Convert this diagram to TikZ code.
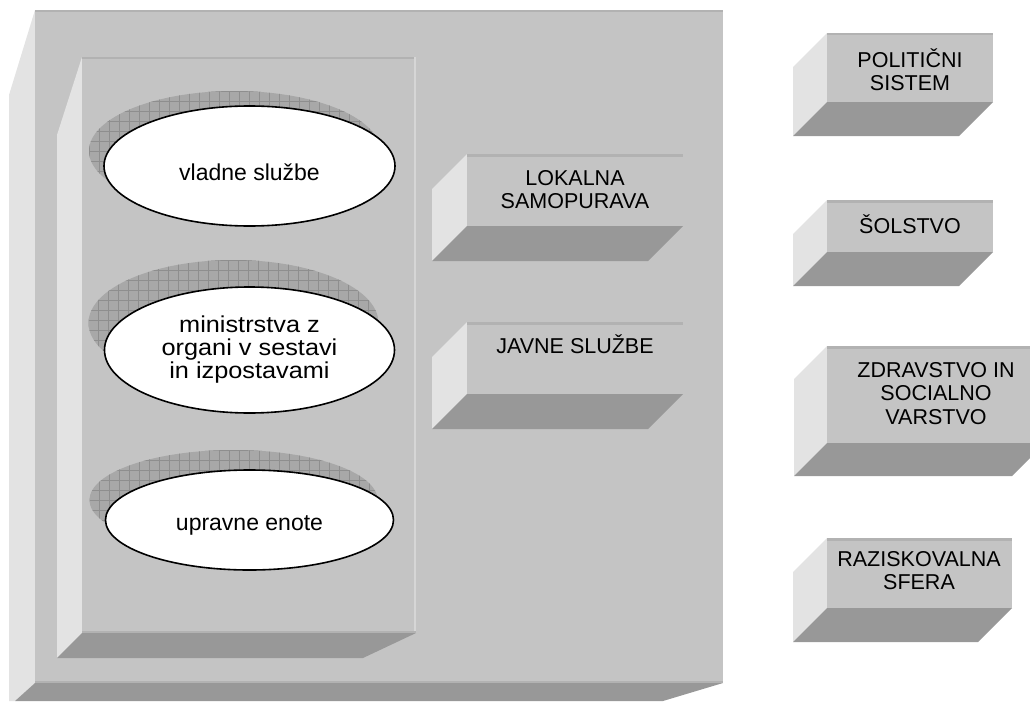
\documentclass[tikz,border=0pt]{standalone}
\usepackage{fontspec}
\setmainfont{Liberation Sans}
\usetikzlibrary{shapes.geometric}
\definecolor{cfront}{RGB}{196,196,196}
\definecolor{clight}{RGB}{227,227,227}
\definecolor{cdark}{RGB}{152,152,152}
\definecolor{cedge}{RGB}{178,178,178}
\definecolor{cedgel}{RGB}{214,214,214}
\definecolor{cshad}{RGB}{168,168,168}
\definecolor{cgrid}{RGB}{142,142,142}
\tikzset{
  frontface/.style={fill=cfront},
  lightface/.style={fill=clight},
  darkface/.style={fill=cdark},
  edgeface/.style={fill=cedge},
  edgelight/.style={fill=cedgel},
  gridline/.style={draw=cgrid, line width=0.5pt},
  mainell/.style={ellipse, draw=black, line width=1.6pt, fill=white, inner sep=0pt},
  lbl/.style={font=\fontsize{21.5}{23.5}\selectfont, inner sep=0pt, anchor=north, align=center},
  etext/.style={font=\fontsize{23}{23.3}\selectfont, inner sep=0pt, align=center},
}
\newcommand{\cubebox}[5]{%
  \fill[lightface] (#1,#2) -- (#1-#5,#2+#5) -- (#1-#5,#4+#5) -- (#1,#4) -- cycle;
  \fill[darkface] (#1,#4) -- (#3,#4) -- (#3-#5,#4+#5) -- (#1-#5,#4+#5) -- cycle;
  \fill[frontface] (#1,#2) rectangle (#3,#4);
  \fill[edgeface] (#1,#2) rectangle (#3,#2+2.5);
}
\newcommand{\shadowell}[4]{%
  \begin{scope}
    \clip (#1,#2) ellipse [x radius=#3, y radius=#4];
    \fill[cshad] (#1-#3,#2-#4) rectangle (#1+#3,#2+#4);
    \foreach \i in {0,...,30} {\draw[gridline] (#1-#3+10*\i,#2-#4) -- (#1-#3+10*\i,#2+#4);}
    \foreach \j in {0,...,14} {\draw[gridline] (#1-#3,#2-#4+10*\j) -- (#1+#3,#2-#4+10*\j);}
  \end{scope}
}
\begin{document}
\begin{tikzpicture}[x=1pt,y=-1pt]
\useasboundingbox (0,0) rectangle (1030,701);
\begin{scope}
\clip (0,0) rectangle (1030,701);
% big box
\fill[lightface] (35,10) -- (9,95) -- (9,701) -- (15,701) -- (35,683) -- cycle;
\fill[darkface] (35,683) -- (723,683) -- (663,701) -- (15,701) -- cycle;
\fill[frontface] (35,10) rectangle (723,683);
\fill[edgeface] (35,10) rectangle (723,12.5);
\fill[edgeface] (35,680.5) rectangle (723,683);
% inner box
\fill[lightface] (82,57) -- (57,135) -- (57,658) -- (82,633) -- cycle;
\fill[darkface] (82,633) -- (416,633) -- (363,658) -- (57,658) -- cycle;
\fill[frontface] (82,57) rectangle (416,633);
\fill[edgeface] (82,57) rectangle (416,59.5);
\fill[edgelight] (413.5,57) rectangle (416,633);
\fill[edgeface] (82,630.5) rectangle (416,633);
% ellipse 1
\shadowell{234.5}{151}{145.5}{60}
\node[mainell, minimum width=291pt, minimum height=120pt] (e1) at (249.5,166) {};
\node[etext, anchor=base] (e1t) at (249.5,180) {vladne službe};
% ellipse 2
\shadowell{233.5}{323}{145}{63}
\node[mainell, minimum width=290pt, minimum height=126pt] (e2) at (249.5,350) {};
\node[etext, anchor=north, xscale=1.1] (e2t) at (249.5,312) {\rule{0pt}{20pt}ministrstva z\\organi v sestavi\\in izpostavami};
% ellipse 3
\shadowell{233.5}{500}{144}{50}
\node[mainell, minimum width=288pt, minimum height=100pt] (e3) at (249.5,520) {};
\node[etext, anchor=base] (e3t) at (249.5,530) {upravne enote};
% middle boxes
\cubebox{467}{154}{683}{226}{35}
\node[lbl] (lok) at (575,165) {\rule{0pt}{20pt}LOKALNA\\SAMOPURAVA};
\cubebox{467}{322}{683}{394}{35}
\node[lbl] (jav) at (575,333) {\rule{0pt}{20pt}JAVNE SLUŽBE};
% right boxes
\cubebox{827}{33}{993}{102}{34}
\node[lbl] (pol) at (910,47) {\rule{0pt}{20pt}POLITIČNI\\SISTEM};
\cubebox{827}{200}{993}{252}{34}
\node[lbl] (sol) at (910,213) {\rule{0pt}{20pt}ŠOLSTVO};
\cubebox{827}{346}{1045}{443}{33}
\node[lbl] (zdr) at (936,357) {\rule{0pt}{20pt}ZDRAVSTVO IN\\SOCIALNO\\VARSTVO};
\cubebox{827}{538}{1012}{608}{34}
\node[lbl] (raz) at (919,546) {\rule{0pt}{20pt}RAZISKOVALNA\\SFERA};
\end{scope}
\end{tikzpicture}
\end{document}
